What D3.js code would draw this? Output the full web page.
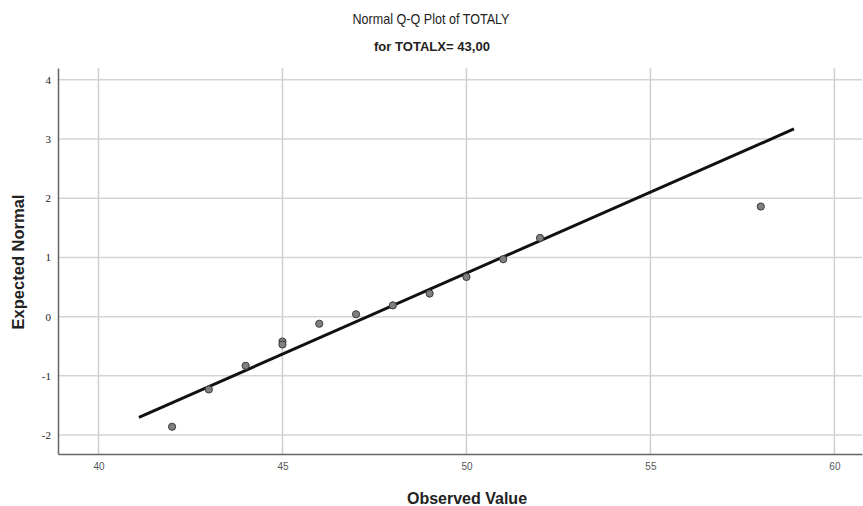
<!DOCTYPE html>
<html>
<head>
<meta charset="utf-8">
<script src="https://cdn.jsdelivr.net/npm/d3@7"></script>
<style>
  body { margin: 0; background: #fff; }
</style>
</head>
<body>
<div id="chart"></div>
<script>
// Observed values and their expected normal scores
const observed = [42, 43, 44, 45, 45, 46, 47, 48, 49, 50, 51, 52, 58];
const expected = [-1.86, -1.23, -0.83, -0.42, -0.47, -0.12, 0.04, 0.19, 0.39, 0.67, 0.97, 1.33, 1.86];

// Reference line end points
const lineX = [41.1, 58.9];
const lineY = [-1.70, 3.17];

const xTicks = [40, 45, 50, 55, 60];
const yTicks = [-2, -1, 0, 1, 2, 3, 4];

const width = 863;
const height = 506;
const margin = {top: 68, right: 1, bottom: 52, left: 58};

const svg = d3.select("#chart")
    .append("svg")
    .attr("width", width)
    .attr("height", height)
    .style("background", "white");

// Scales
const x = d3.scaleLinear()
    .domain([38.9, 60.75])
    .range([margin.left, width - margin.right]);

const y = d3.scaleLinear()
    .domain([-2.32, 4.2])
    .range([height - margin.bottom, margin.top]);

// Gridlines
svg.append("g")
    .selectAll("line")
    .data(xTicks)
    .join("line")
    .attr("x1", d => x(d))
    .attr("x2", d => x(d))
    .attr("y1", margin.top)
    .attr("y2", height - margin.bottom)
    .attr("stroke", "#cfcfcf")
    .attr("stroke-width", 1.5);

svg.append("g")
    .selectAll("line")
    .data(yTicks)
    .join("line")
    .attr("x1", margin.left)
    .attr("x2", width - margin.right)
    .attr("y1", d => y(d))
    .attr("y2", d => y(d))
    .attr("stroke", "#d4d4d4")
    .attr("stroke-width", 1.5);

// Axes
const xAxis = d3.axisBottom(x).tickValues(xTicks).tickSize(0).tickPadding(9);
const yAxis = d3.axisLeft(y).tickValues(yTicks).tickFormat(d => String(d)).tickSize(0).tickPadding(7);

svg.append("g")
    .attr("transform", `translate(0,${height - margin.bottom})`)
    .call(xAxis)
    .call(g => g.select(".domain").attr("stroke", "#666").attr("stroke-width", 1.5))
    .selectAll("text")
    .attr("fill", "#555")
    .style("font-family", "Liberation Sans, Arial, sans-serif")
    .style("font-size", "10px");

svg.append("g")
    .attr("transform", `translate(${margin.left},0)`)
    .call(yAxis)
    .call(g => g.select(".domain").attr("stroke", "#666").attr("stroke-width", 1.5))
    .selectAll("text")
    .attr("fill", "#222")
    .style("font-family", "Liberation Serif, serif")
    .style("font-size", "11px");

// Reference line
svg.append("line")
    .attr("x1", x(lineX[0]))
    .attr("y1", y(lineY[0]))
    .attr("x2", x(lineX[1]))
    .attr("y2", y(lineY[1]))
    .attr("stroke", "#111")
    .attr("stroke-width", 3);

// Points
svg.append("g")
    .selectAll("circle")
    .data(observed.map((d, i) => ({obs: d, exp: expected[i]})))
    .join("circle")
    .attr("cx", d => x(d.obs))
    .attr("cy", d => y(d.exp))
    .attr("r", 3.6)
    .attr("fill", "#808080")
    .attr("stroke", "#3a3a3a")
    .attr("stroke-width", 1);

// Titles
svg.append("text")
    .attr("x", 431)
    .attr("y", 24)
    .attr("text-anchor", "middle")
    .attr("fill", "#222")
    .attr("textLength", 157)
    .attr("lengthAdjust", "spacingAndGlyphs")
    .style("font-family", "Liberation Sans, Arial, sans-serif")
    .style("font-size", "15px")
    .text("Normal Q-Q Plot of TOTALY");

svg.append("text")
    .attr("x", 432)
    .attr("y", 51)
    .attr("text-anchor", "middle")
    .attr("fill", "#222")
    .attr("textLength", 116)
    .attr("lengthAdjust", "spacingAndGlyphs")
    .style("font-family", "Liberation Sans, Arial, sans-serif")
    .style("font-weight", "bold")
    .style("font-size", "12px")
    .text("for TOTALX= 43,00");

// Axis labels
svg.append("text")
    .attr("x", 467)
    .attr("y", 504)
    .attr("text-anchor", "middle")
    .attr("fill", "#222")
    .style("font-family", "Liberation Sans, Arial, sans-serif")
    .style("font-weight", "bold")
    .style("font-size", "16px")
    .text("Observed Value");

svg.append("text")
    .attr("transform", "rotate(-90)")
    .attr("x", -262)
    .attr("y", 24)
    .attr("text-anchor", "middle")
    .attr("fill", "#222")
    .style("font-family", "Liberation Sans, Arial, sans-serif")
    .style("font-weight", "bold")
    .style("font-size", "16.5px")
    .text("Expected Normal");
</script>
</body>
</html>
